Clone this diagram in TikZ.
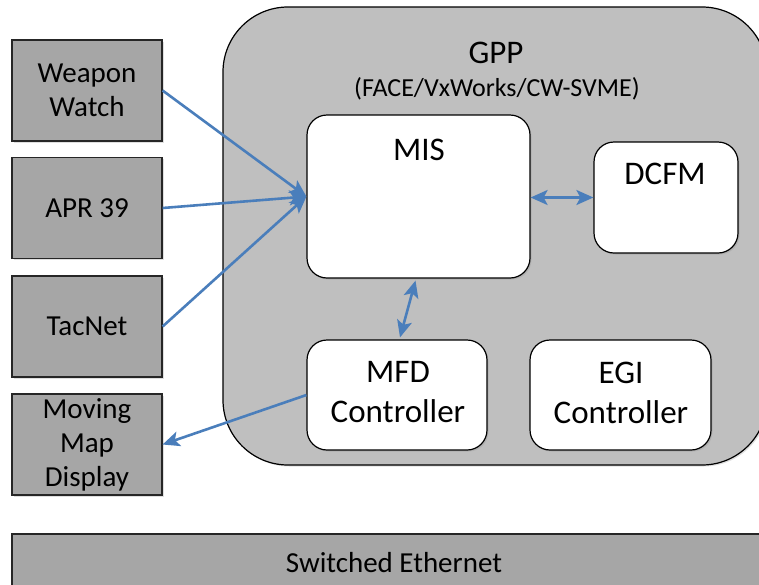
\documentclass[tikz,border=0pt]{standalone}
\usepackage{fontspec}
\setmainfont{Carlito}
\usetikzlibrary{arrows.meta,shadows,calc}
\definecolor{gppfill}{HTML}{BFBFBF}
\definecolor{extfill}{HTML}{A6A6A6}
\definecolor{arrowblue}{HTML}{4A7EBB}
\begin{document}
\begin{tikzpicture}[x=1pt,y=-1pt,
  shad/.style={drop shadow={shadow xshift=1.5pt,shadow yshift=-1.5pt,opacity=0.25}},
  extbox/.style={draw=black!85,line width=1.2pt,fill=extfill,minimum width=150pt,minimum height=101pt,inner sep=0pt,align=center,font=\fontsize{29}{34}\selectfont,shad},
  gppbox/.style={draw=black,line width=1.2pt,fill=gppfill,rounded corners=65pt,inner sep=0pt,shad},
  inbox/.style={draw=black,line width=1.2pt,fill=white,rounded corners=20pt,inner sep=0pt,align=center,font=\fontsize{33}{40}\selectfont,shad},
  inlabel/.style={inner sep=0pt,font=\fontsize{33}{40}\selectfont},
  conn/.style={draw=arrowblue,line width=2.6pt,-{Stealth[length=17pt,width=15pt,inset=4pt]}},
  dconn/.style={draw=arrowblue,line width=2.6pt,{Stealth[length=17pt,width=15pt,inset=4pt]}-{Stealth[length=17pt,width=15pt,inset=4pt]}}
]
\clip (0,0) rectangle (759,584);
\fill[white] (0,0) rectangle (759,584);

% GPP container
\node[gppbox,minimum width=544pt,minimum height=458pt] (gpp) at (495,236) {};
\node[inner sep=0pt,font=\fontsize{33}{40}\selectfont] (gpptitle) at (496,53) {GPP};
\node[inner sep=0pt,font=\fontsize{26}{30}\selectfont] (gppsub) at (497,89) {(FACE/VxWorks/CW-SVME)};

% inner boxes
\node[inbox,minimum width=223pt,minimum height=163pt] (mis) at (418.5,196.5) {};
\node[inlabel] (mislbl) at (419,150) {MIS};
\node[inbox,minimum width=144pt,minimum height=111pt] (dcfm) at (666,197.5) {};
\node[inlabel] (dcfmlbl) at (665,174) {DCFM};
\node[inbox,minimum width=180pt,minimum height=110pt] (mfd) at (397,395) {};
\node[inlabel,align=center] (mfdlbl) at (398,392.5) {MFD\\Controller};
\node[inbox,minimum width=181pt,minimum height=110pt] (egi) at (620.5,395) {};
\node[inlabel,align=center] (egilbl) at (621,392.5) {EGI\\Controller};

% external boxes
\node[extbox] (ww) at (87,90.5) {Weapon\\Watch};
\node[extbox] (apr) at (87,208) {APR 39};
\node[extbox] (tac) at (87,326.5) {TacNet};
\node[extbox] (mmd) at (87,444.5) {Moving\\Map\\Display};

% Ethernet bar
\node[extbox,minimum width=764pt,minimum height=58pt] (eth) at (394,563) {};
\node[inner sep=0pt,font=\fontsize{29}{34}\selectfont] (ethlbl) at (394,563) {Switched Ethernet};

% connectors
\draw[conn] (ww.east) -- (mis.west);
\draw[conn] (apr.east) -- (mis.west);
\draw[conn] (tac.east) -- (mis.west);
\draw[dconn] (mis.east |- dcfm.west) -- (dcfm.west);
\draw[dconn] ($(mis.south)+(-3,2)$) -- ($(mfd.north)+(3,-2)$);
\draw[conn] (mfd.west) -- (mmd.east);
\end{tikzpicture}
\end{document}
